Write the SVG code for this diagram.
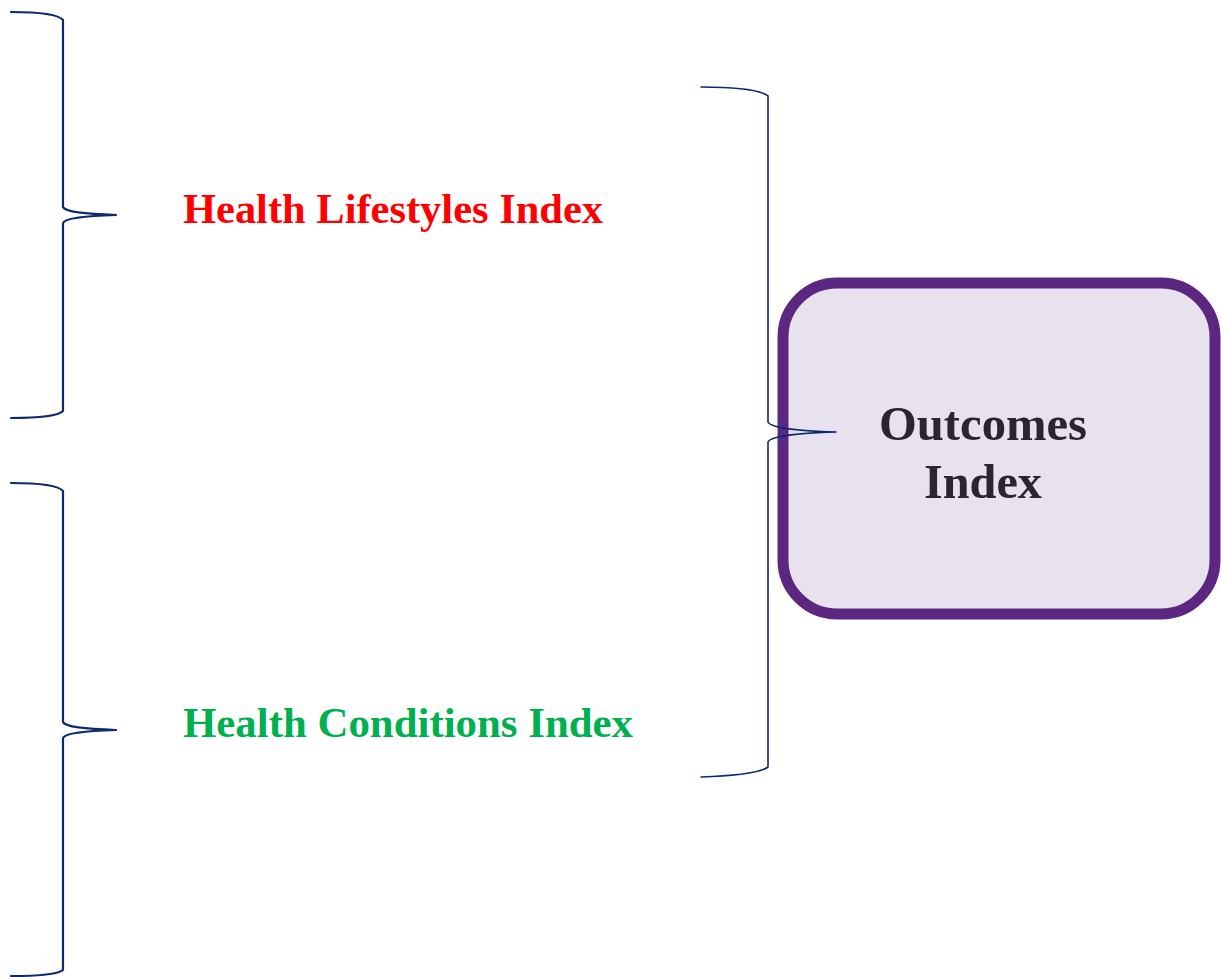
<svg xmlns="http://www.w3.org/2000/svg" width="1221" height="977" viewBox="0 0 1221 977">
<style>
.brace{fill:none;stroke:#0D2A6E;stroke-linejoin:round;stroke-linecap:round}
.thick{stroke-width:2.2}
.thin{stroke-width:1.6}
.lbl{font-family:"Liberation Serif",serif;font-weight:bold}
</style>
<rect width="1221" height="977" fill="#ffffff"/>
<g id="connectors">
<path class="brace thick" d="M11,12 C40,12 58,14 63,20 L63,207 C65,212 85,214 116,215 C85,216 65,218 63,223 L63,411 C58,416 40,418 11,418"/>
<path class="brace thick" d="M11,483 C40,483 58,485 63,491 L63,722 C65,727 85,729 116,730 C85,731 65,733 63,738 L63,970 C58,974 40,976 11,976"/>
</g>
<g id="outcomes">
<rect x="783" y="283" width="432" height="331" rx="54" ry="54" fill="#E8E2EF" stroke="#5B2781" stroke-width="11"/>
<text class="lbl" x="983" y="440" font-size="48" fill="#2A2530" text-anchor="middle" textLength="208" lengthAdjust="spacingAndGlyphs">Outcomes</text>
<text class="lbl" x="983" y="498" font-size="48" fill="#2A2530" text-anchor="middle" textLength="118" lengthAdjust="spacingAndGlyphs">Index</text>
</g>
<g id="connectors-right">
<path class="brace thin" d="M701,87 C735,87 760,90 768,96 L768,422 C770,427 795,431 836,432 C795,433 770,437 768,442 L768,767 C760,773 735,776 701,777"/>
</g>
<g id="lifestyles">
<text class="lbl" x="183" y="223" font-size="42" fill="#FF0000" textLength="420" lengthAdjust="spacingAndGlyphs">Health Lifestyles Index</text>
</g>
<g id="conditions">
<text class="lbl" x="183" y="737" font-size="42" fill="#00B050" textLength="450" lengthAdjust="spacingAndGlyphs">Health Conditions Index</text>
</g>
</svg>
